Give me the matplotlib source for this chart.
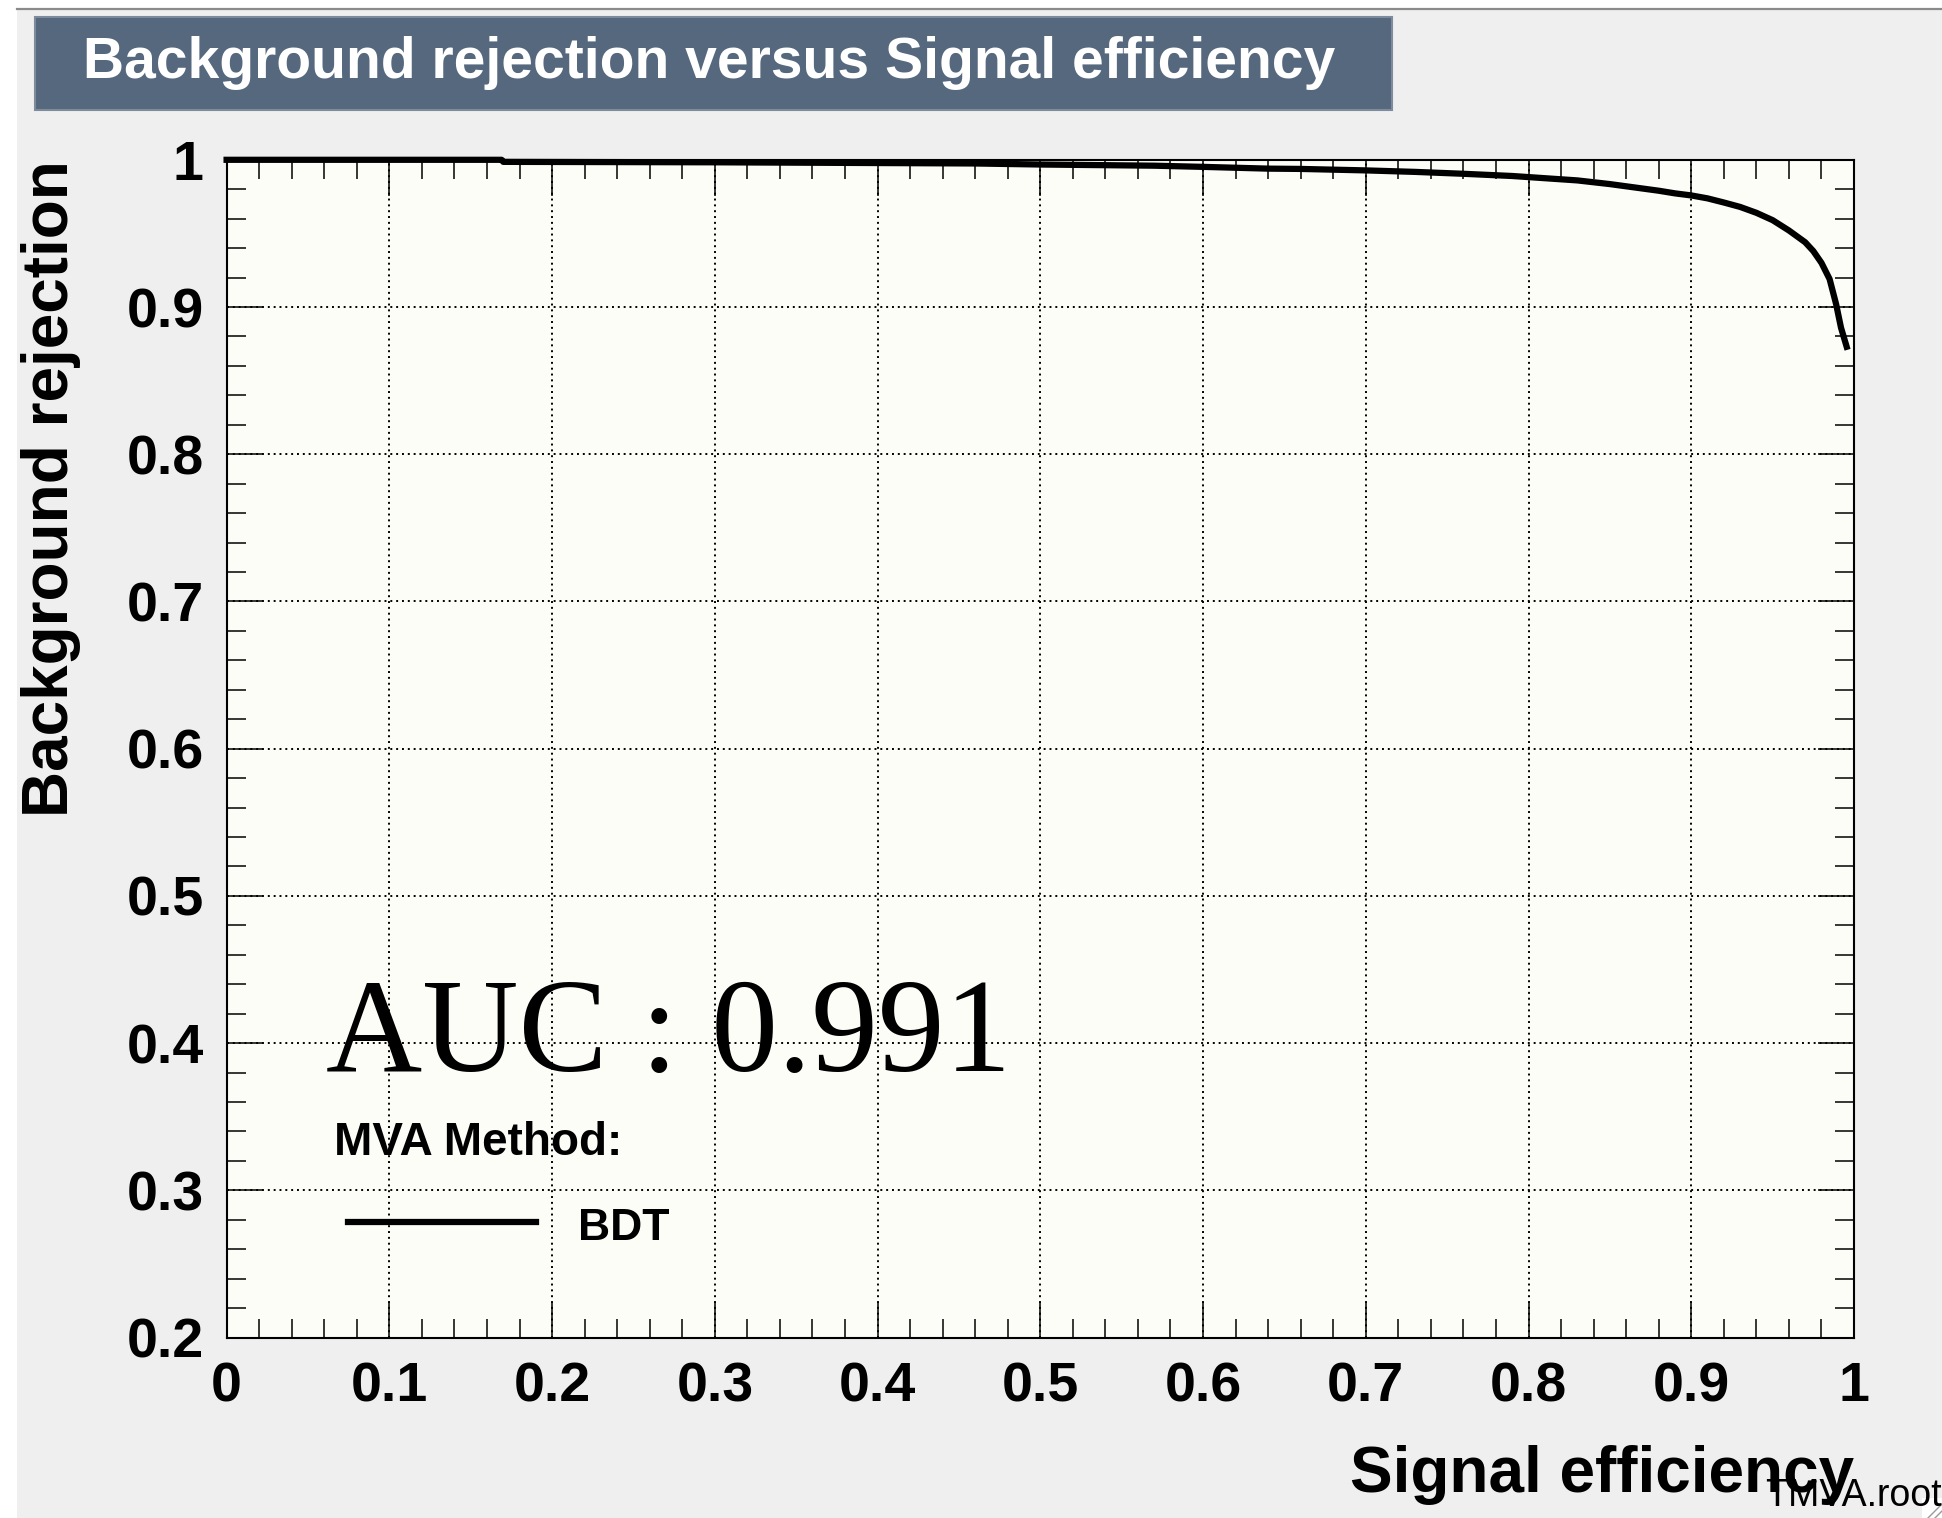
import matplotlib
matplotlib.use('Agg')
import matplotlib.pyplot as plt
from matplotlib.patches import Rectangle
from matplotlib.lines import Line2D
from matplotlib.ticker import MultipleLocator

# ROC curve of the BDT classifier: signal efficiency vs background rejection
sig_eff = [0.00, 0.05, 0.10, 0.169, 0.17, 0.30, 0.40, 0.46, 0.50, 0.57, 0.60,
           0.64, 0.66, 0.70, 0.73, 0.76, 0.79, 0.81, 0.83, 0.85, 0.86, 0.87,
           0.88, 0.89, 0.90, 0.91, 0.92, 0.93, 0.94, 0.95, 0.96, 0.97, 0.975,
           0.98, 0.985, 0.989, 0.992, 0.9955]
bkg_rej = [1.000, 1.000, 1.000, 1.000, 0.9986, 0.9983, 0.9978, 0.9975, 0.9968,
           0.9960, 0.9952, 0.9940, 0.9938, 0.9928, 0.9918, 0.9905, 0.9890,
           0.9875, 0.9860, 0.9835, 0.9820, 0.9805, 0.9790, 0.9772, 0.9758,
           0.9738, 0.9710, 0.9680, 0.9640, 0.9590, 0.9520, 0.9440, 0.9380,
           0.9300, 0.9190, 0.9020, 0.8860, 0.8730]

x_ticks = [0.0, 0.1, 0.2, 0.3, 0.4, 0.5, 0.6, 0.7, 0.8, 0.9, 1.0]
x_labels = ['0', '0.1', '0.2', '0.3', '0.4', '0.5', '0.6', '0.7', '0.8', '0.9', '1']
y_ticks = [0.2, 0.3, 0.4, 0.5, 0.6, 0.7, 0.8, 0.9, 1.0]
y_labels = ['0.2', '0.3', '0.4', '0.5', '0.6', '0.7', '0.8', '0.9', '1']

auc_text = 'AUC : 0.991'
method_name = 'BDT'
file_name = 'TMVA.root'

W, H = 1942, 1518


def fx(x):
    return x / W


def fy(y):
    return 1 - y / H


plt.rcParams['font.family'] = ['Liberation Sans', 'DejaVu Sans']
plt.rcParams['font.weight'] = 'bold'

fig = plt.figure(figsize=(W / 100, H / 100), dpi=100, facecolor='#efefef')

# window frame strips
fig.patches.append(Rectangle((0, 0), fx(17), 1, transform=fig.transFigure,
                             fc='white', ec='none', zorder=0))
fig.patches.append(Rectangle((0, fy(8)), 1, 8 / H, transform=fig.transFigure,
                             fc='white', ec='none', zorder=0))
fig.lines.append(Line2D([fx(17), 1], [fy(9), fy(9)], transform=fig.transFigure,
                        color='#8a8a8a', lw=1.6))

# title box
fig.patches.append(Rectangle((fx(35), fy(110)), fx(1392 - 35), 93 / H,
                             transform=fig.transFigure, fc='#56687e',
                             ec='#7d8b9d', lw=1.5))
fig.text(fx(83), fy(78), 'Background rejection versus Signal efficiency',
         color='white', fontsize=41, va='baseline', ha='left')

ax = fig.add_axes([fx(226.6), fy(1337.6), (1854 - 226.6) / W, 1177.8 / H])
ax.set_facecolor('#fdfdf7')
ax.set_xlim(0, 1)
ax.set_ylim(0.2, 1)

ax.plot(sig_eff, bkg_rej, color='black', lw=4.5, clip_on=False, zorder=5)

ax.set_xticks(x_ticks, x_labels)
ax.set_yticks(y_ticks, y_labels)
ax.xaxis.set_minor_locator(MultipleLocator(0.02))
ax.yaxis.set_minor_locator(MultipleLocator(0.02))
ax.tick_params(which='both', direction='in', top=True, right=True,
               colors='black', width=1.1)
ax.tick_params(which='major', length=26, labelsize=40)
ax.tick_params(axis='x', which='major', pad=17)
ax.tick_params(axis='y', which='major', pad=16.5)
ax.tick_params(which='minor', length=14)
for s in ax.spines.values():
    s.set_linewidth(1.5)
ax.grid(True, which='major', color='black', linestyle=(0, (1, 2)), linewidth=1.4)

# axis titles, ROOT style: aligned to the frame ends
fig.text(fx(1854), fy(1492), 'Signal efficiency', fontsize=46,
         ha='right', va='baseline')
fig.text(fx(51), fy(160), 'Background rejection', fontsize=46,
         rotation=90, ha='center', va='top')

# AUC label
fig.text(fx(326), fy(1071), auc_text, fontsize=96, fontweight='normal',
         family=['Liberation Serif', 'DejaVu Serif'], va='baseline', ha='left')

# legend
fig.text(fx(334), fy(1155), 'MVA Method:', fontsize=33, va='baseline')
fig.lines.append(Line2D([fx(348), fx(536)], [fy(1222), fy(1222)],
                        transform=fig.transFigure, color='black', lw=4.5))
fig.text(fx(578), fy(1240), method_name, fontsize=32, va='baseline')

fig.text(fx(1765), fy(1506), file_name, fontsize=27, fontweight='normal',
         va='baseline')

# resize grip in the corner
fig.patches.append(Rectangle((fx(1922), 0), fx(20), 20 / H, transform=fig.transFigure,
                             fc='white', ec='none'))
fig.lines.append(Line2D([fx(1928), 1], [0, fy(1504)], transform=fig.transFigure,
                        color='#9a9a9a', lw=1))
fig.lines.append(Line2D([fx(1935), 1], [0, fy(1511)], transform=fig.transFigure,
                        color='#9a9a9a', lw=1))

fig.savefig('out.png', dpi=100, facecolor=fig.get_facecolor())
